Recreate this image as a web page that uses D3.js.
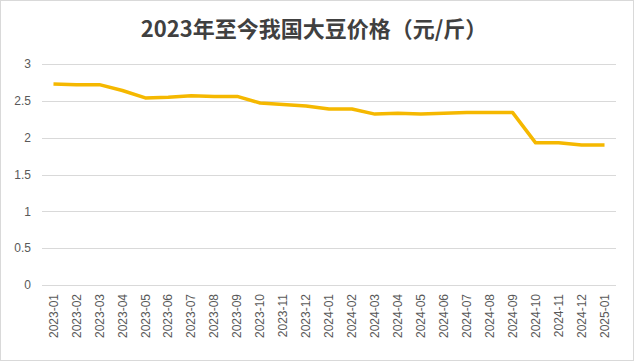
<!DOCTYPE html>
<html>
<head>
<meta charset="utf-8">
<script src="https://cdn.jsdelivr.net/npm/d3@7"></script>
<style>
  body { margin: 0; background: #fff; }
  svg { display: block; }
</style>
</head>
<body>
<div id="chart"></div>
<script>
// month labels on the x axis
const months = [
  "2023-01", "2023-02", "2023-03", "2023-04", "2023-05", "2023-06", "2023-07",
  "2023-08", "2023-09", "2023-10", "2023-11", "2023-12",
  "2024-01", "2024-02", "2024-03", "2024-04", "2024-05", "2024-06", "2024-07",
  "2024-08", "2024-09", "2024-10", "2024-11", "2024-12", "2025-01"
];

// soybean price, yuan per jin
const prices = [
  2.73, 2.72, 2.72, 2.64, 2.54, 2.55, 2.57, 2.56, 2.56, 2.47, 2.45, 2.43,
  2.39, 2.39, 2.32, 2.33, 2.32, 2.33, 2.34, 2.34, 2.34, 1.93, 1.93, 1.90, 1.90
];

const yTicks = [0, 0.5, 1, 1.5, 2, 2.5, 3];

const title = "2023年至今我国大豆价格（元/斤）";

const width = 635, height = 361;
const margin = { top: 64, right: 19, bottom: 76, left: 42 };

const svg = d3.select("#chart")
    .append("svg")
    .attr("width", width)
    .attr("height", height);

// outer frame
svg.append("rect")
    .attr("x", 0.5)
    .attr("y", 0.5)
    .attr("width", width - 2)
    .attr("height", height - 1)
    .attr("fill", "#fff")
    .attr("stroke", "#d9d9d9");

svg.append("text")
    .attr("x", 314)
    .attr("y", 37)
    .attr("text-anchor", "middle")
    .attr("font-family", "'Noto Sans CJK SC', sans-serif")
    .attr("font-weight", "bold")
    .attr("font-size", "22px")
    .attr("fill", "#404040")
    .text(title);

const x = d3.scalePoint()
    .domain(months)
    .range([margin.left, width - margin.right])
    .padding(0.5);

const y = d3.scaleLinear()
    .domain([0, 3])
    .range([height - margin.bottom, margin.top]);

// gridlines
svg.append("g")
    .selectAll("line")
    .data(yTicks)
    .enter().append("line")
    .attr("x1", margin.left)
    .attr("x2", width - margin.right)
    .attr("y1", d => Math.round(y(d)) + 0.5)
    .attr("y2", d => Math.round(y(d)) + 0.5)
    .attr("stroke", "#d9d9d9")
    .attr("stroke-width", 1);

// y labels
svg.append("g")
    .selectAll("text")
    .data(yTicks)
    .enter().append("text")
    .attr("x", 31)
    .attr("y", d => y(d))
    .attr("dy", "0.35em")
    .attr("text-anchor", "end")
    .attr("font-family", "Arial, 'Liberation Sans', sans-serif")
    .attr("font-size", "12px")
    .attr("fill", "#595959")
    .text(d => d);

// x labels, rotated
svg.append("g")
    .selectAll("text")
    .data(months)
    .enter().append("text")
    .attr("transform", d => `translate(${x(d)},${height - margin.bottom + 9}) rotate(-90)`)
    .attr("dy", "0.35em")
    .attr("text-anchor", "end")
    .attr("font-family", "Arial, 'Liberation Sans', sans-serif")
    .attr("font-size", "12px")
    .attr("fill", "#595959")
    .text(d => d);

const line = d3.line()
    .x((d, i) => x(months[i]))
    .y(d => y(d));

svg.append("path")
    .datum(prices)
    .attr("fill", "none")
    .attr("stroke", "#F5B800")
    .attr("stroke-width", 3.5)
    .attr("stroke-linejoin", "round")
    .attr("d", line);
</script>
</body>
</html>
